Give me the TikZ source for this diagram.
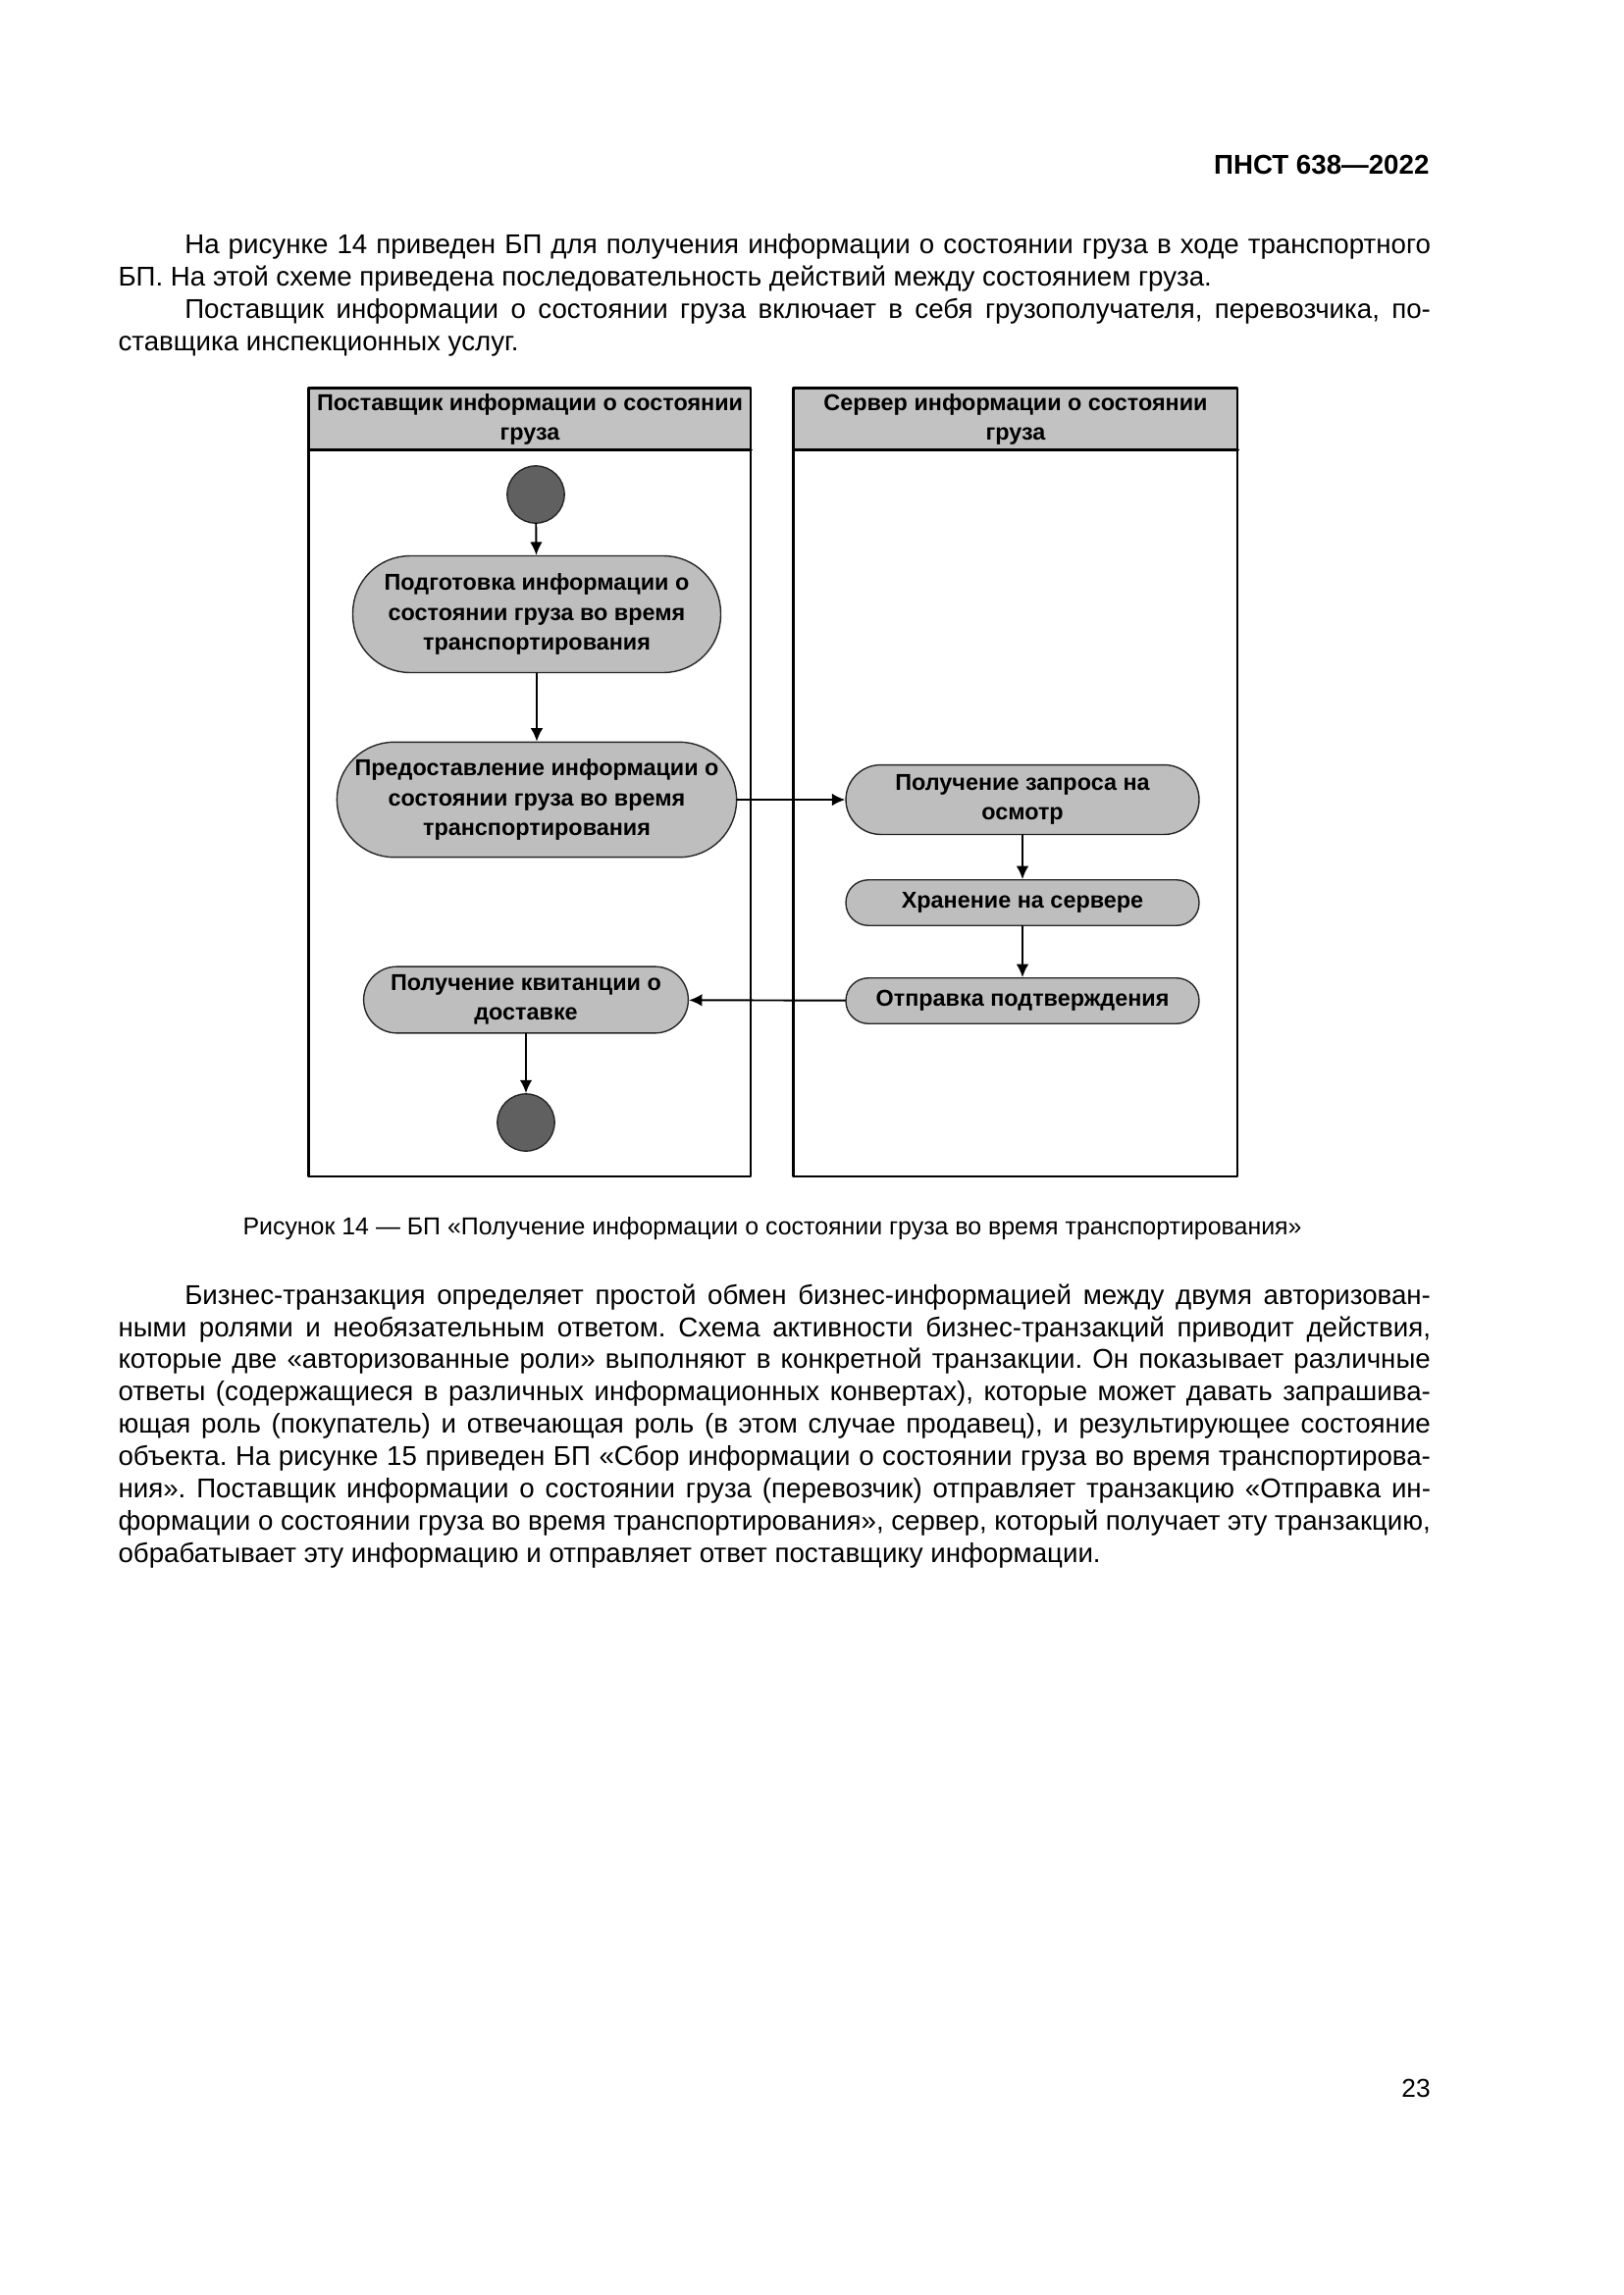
\documentclass[tikz,border=0pt]{standalone}
\usepackage{fontspec}
\setmainfont{Liberation Sans}
\usetikzlibrary{arrows.meta}
\definecolor{actgray}{RGB}{190,190,190}
\definecolor{headgray}{RGB}{194,194,194}
\definecolor{dotgray}{RGB}{96,96,96}
\begin{document}
\begin{tikzpicture}[x=0.12697mm,y=-0.12697mm,line join=round,line cap=round,>={Latex[length=1.7mm,width=1.6mm]},
    act/.style={draw=black!85,line width=.5pt,fill=actgray,rounded corners=#1,inner sep=0pt,align=center,font=\fontsize{8.45}{11}\selectfont\bfseries},
    dot/.style={circle,draw=black!85,line width=.5pt,fill=dotgray,minimum size=7.4mm,inner sep=0pt},
    lanehd/.style={draw=black!60,line width=.4pt,fill=headgray,minimum height=7.9mm,inner sep=0pt,align=center,font=\fontsize{8.45}{10.8}\selectfont\bfseries},
    lane/.style={line width=1pt},
    para/.style={anchor=north west,inner sep=0pt,text width=169.8mm,align=justify,font=\fontsize{10}{11.9}\selectfont}]
\fill[white] (0,0) rectangle (1654,2339);
\useasboundingbox (0,0) rectangle (1654,2339);
% page text
\node[anchor=east,inner sep=0pt,font=\fontsize{10}{12}\selectfont\bfseries] (docno) at (1457,168) {ПНСТ 638—2022};
\node[para] (intro) at (120,238) {\tolerance 10000 \frenchspacing
    \hspace*{8.6mm}На рисунке 14 приведен БП для получения информации о состоянии груза в ходе транспортного\linebreak БП. На этой схеме приведена последовательность действий между состоянием груза.\par
    \hspace*{8.6mm}Поставщик информации о состоянии груза включает в себя грузополучателя, перевозчика, по-\linebreak ставщика инспекционных услуг.};
% lanes
\node[lanehd,minimum width=57.1mm] (provhd) at (540,427) {Поставщик информации о состоянии\\груза};
\node[lanehd,minimum width=57.4mm] (servhd) at (1035,427) {Сервер информации о состоянии\\груза};
\draw[lane] (provhd.north west) rectangle (765,1199) (provhd.south west)--(provhd.south east);
\draw[lane] (servhd.north west) rectangle (1261,1199) (servhd.south west)--(servhd.south east);
% activities
\node[dot] (start) at (546,504) {};
\node[act=7.4mm,minimum width=47.6mm,minimum height=15.1mm] (prep) at (547,626) {Подготовка информации о\\состоянии груза во время\\транспортирования};
\node[act=7.4mm,minimum width=51.7mm,minimum height=14.9mm] (provide) at (547,815) {Предоставление информации о\\состоянии груза во время\\транспортирования};
\node[act=4.3mm,minimum width=42mm,minimum height=8.6mm] (receipt) at (536,1019) {Получение квитанции о\\доставке};
\node[dot] (finish) at (536,1144) {};
\node[act=4.5mm,minimum width=45.7mm,minimum height=9mm] (reqrecv) at (1042,815) {Получение запроса на\\осмотр};
\node[act=2.9mm,minimum width=45.7mm,minimum height=5.9mm] (store) at (1042,920) {Хранение на сервере};
\node[act=2.9mm,minimum width=45.7mm,minimum height=5.9mm] (confirm) at (1042,1020) {Отправка подтверждения};
\foreach \a/\b in {start/prep,prep/provide,provide/reqrecv,reqrecv/store,store/confirm,confirm/receipt,receipt/finish}
    \draw[->,line width=.7pt] (\a)--(\b);
\node[inner sep=0pt,font=\fontsize{9}{11}\selectfont] (caption) at (787,1252) {Рисунок 14 — БП «Получение информации о состоянии груза во время транспортирования»};
\node[para] (trans) at (120,1308) {\tolerance 10000 \frenchspacing
    \hspace*{8.6mm}Бизнес-транзакция определяет простой обмен бизнес-информацией между двумя авторизован-\linebreak ными ролями и необязательным ответом. Схема активности бизнес-транзакций приводит действия,\linebreak которые две «авторизованные роли» выполняют в конкретной транзакции. Он показывает различные\linebreak ответы (содержащиеся в различных информационных конвертах), которые может давать запрашива-\linebreak ющая роль (покупатель) и отвечающая роль (в этом случае продавец), и результирующее состояние\linebreak объекта. На рисунке 15 приведен БП «Сбор информации о состоянии груза во время транспортирова-\linebreak ния». Поставщик информации о состоянии груза (перевозчик) отправляет транзакцию «Отправка ин-\linebreak формации о состоянии груза во время транспортирования», сервер, который получает эту транзакцию,\linebreak обрабатывает эту информацию и отправляет ответ поставщику информации.};
\node[inner sep=0pt,font=\fontsize{9.5}{11}\selectfont] (pageno) at (1443,2128) {23};
\end{tikzpicture}
\end{document}
